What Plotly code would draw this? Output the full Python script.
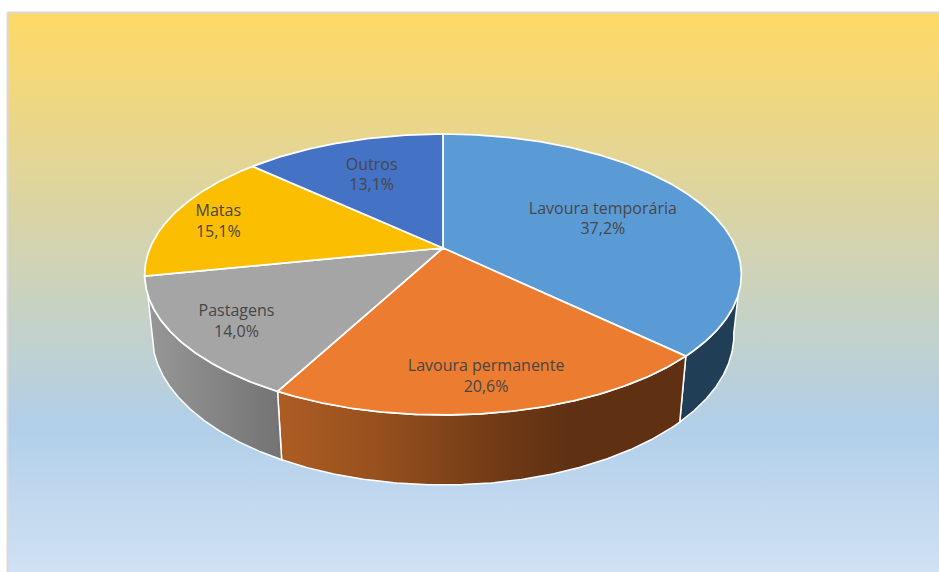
import numpy as np
import plotly.graph_objects as go

# --- data ---
categories = ["Lavoura temporária", "Lavoura permanente", "Pastagens", "Matas", "Outros"]
shares = [37.2, 20.6, 14.0, 15.1, 13.1]

# --- styles ---
top_colors = ["#5B9BD5", "#EB7C30", "#A5A5A5", "#FCBE00", "#4472C4"]
wall_scales = [
    [[0, "#203F57"], [1, "#203F57"]],
    [[0, "#AD5D23"], [0.25, "#96501E"], [0.55, "#6F3A15"], [0.72, "#5F3012"], [1, "#5F3012"]],
    [[0, "#979797"], [1, "#737373"]],
    [[0, "#977200"], [1, "#977200"]],
    [[0, "#29447A"], [1, "#29447A"]],
]
label_radius = [0.62, 0.80, 0.80, 0.83, 0.68]
text_color = "#474747"

# --- projection of the flat pie onto the page (pixels) ---
W, H = 939, 572
CX, CY = 443.0, 248.0
RX, RY, PERSP = 293.0, 135.5, 0.1886
BASE_DROP, BASE_SX, BASE_SY = 58.6, 0.975, 1.068


def project(theta, r=1.0, base=False):
    u, v = r * np.sin(theta), r * np.cos(theta)
    w = 1 + PERSP * v
    x, y = RX * u / w, -RY * v / w
    if base:
        return CX + BASE_SX * x, CY + BASE_SY * y + BASE_DROP
    return CX + x, CY + y


total = sum(shares)
edges = 2 * np.pi * np.cumsum([0] + shares) / total
TOP_A, TOP_B = np.radians(109), np.radians(251)
BASE_A, BASE_B = np.radians(100), np.radians(260)

fig = go.Figure()

# page background with its frame (right and bottom sides run off the page)
fig.add_trace(go.Scatter(
    x=[7.5, 950, 950, 7.5, 7.5], y=[12.5, 12.5, 585, 585, 12.5],
    mode="lines", fill="toself", line=dict(color="#D9D9D9", width=2),
    fillgradient=dict(type="vertical", start=13, stop=572, colorscale=[
        [0, "#FFD966"], [0.74, "#B1CFE9"], [1, "#D0E1F3"]]),
    hoverinfo="skip", showlegend=False))

# side walls (front part of the rim only)
for i in range(len(shares)):
    a_top, b_top = max(edges[i], TOP_A), min(edges[i + 1], TOP_B)
    if b_top <= a_top:
        continue
    a_base, b_base = max(edges[i], BASE_A), min(edges[i + 1], BASE_B)
    xt, yt = project(np.linspace(a_top, b_top, 160))
    xb, yb = project(np.linspace(a_base, b_base, 160), base=True)
    fig.add_trace(go.Scatter(
        x=np.r_[xt, xb[::-1], xt[0]], y=np.r_[yt, yb[::-1], yt[0]],
        mode="lines", fill="toself", line=dict(color="white", width=1.5),
        fillgradient=dict(type="horizontal", colorscale=wall_scales[i]),
        hoverinfo="skip", showlegend=False))

# top surface
for i in range(len(shares)):
    t = np.linspace(edges[i], edges[i + 1], 240)
    xt, yt = project(t)
    fig.add_trace(go.Scatter(
        x=np.r_[CX, xt, CX], y=np.r_[CY, yt, CY],
        mode="lines", fill="toself", fillcolor=top_colors[i],
        line=dict(color="white", width=1.75),
        hoverinfo="skip", showlegend=False))

# labels
mids = (edges[:-1] + edges[1:]) / 2
lx, ly = project(mids, np.array(label_radius))
texts = [f"{c}<br>{s:.1f}%".replace(".", ",") for c, s in zip(categories, shares)]
fig.add_trace(go.Scatter(
    x=lx, y=ly + 3.5, mode="text", text=texts, textposition="middle center",
    textfont=dict(family="Open Sans", size=16, color=text_color),
    hoverinfo="skip", showlegend=False))

fig.update_layout(
    width=W, height=H, margin=dict(l=0, r=0, t=0, b=0),
    paper_bgcolor="white", plot_bgcolor="white", showlegend=False,
    xaxis=dict(range=[0, W], visible=False, fixedrange=True),
    yaxis=dict(range=[H, 0], visible=False, fixedrange=True),
)
fig.write_html("out.html", config={"displayModeBar": False},
               post_script="document.body.style.margin='0';")
